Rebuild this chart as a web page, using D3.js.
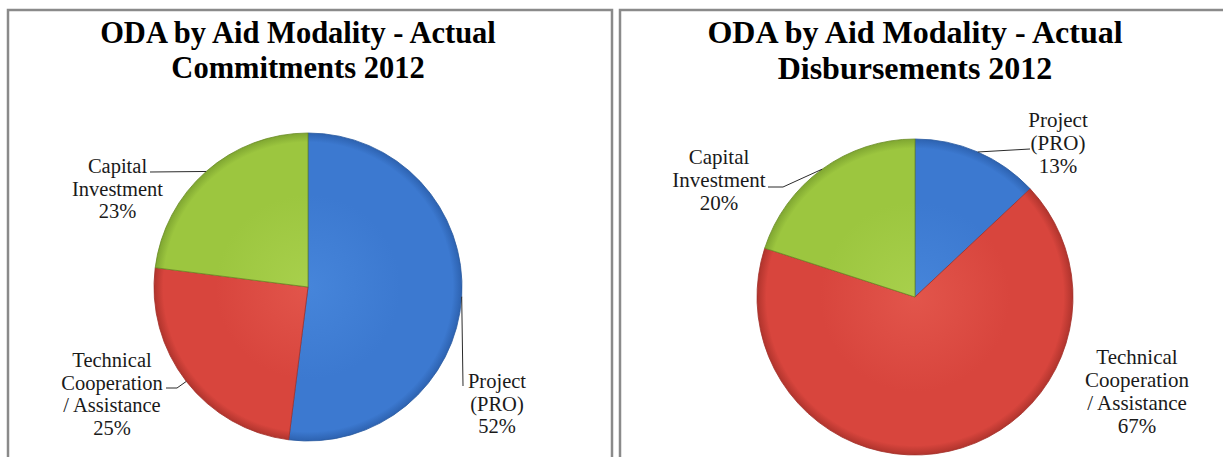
<!DOCTYPE html>
<html>
<head>
<meta charset="utf-8">
<script src="https://cdn.jsdelivr.net/npm/d3@7"></script>
<style>
  html, body { margin: 0; padding: 0; background: #ffffff; }
  svg { display: block; }
</style>
</head>
<body>
<svg id="chart" width="1223" height="457"></svg>
<script>
// ---------- data ----------
const categories = ["Project (PRO)", "Technical Cooperation / Assistance", "Capital Investment"];
const labelLines = [["Project", "(PRO)"], ["Technical", "Cooperation", "/ Assistance"], ["Capital", "Investment"]];
const commitmentValues = [52, 25, 23];
const disbursementValues = [13, 67, 20];
const titleCommitments = ["ODA by Aid Modality - Actual", "Commitments 2012"];
const titleDisbursements = ["ODA by Aid Modality - Actual", "Disbursements 2012"];

// ---------- styles ----------
const FONT = "'Liberation Serif', serif";
const sliceColors = [
  { base: "#3c79d0", light: "#4685da", dark: "#2d62b0" },
  { base: "#d8453d", light: "#e2554b", dark: "#b0342d" },
  { base: "#9cc63f", light: "#a8d04c", dark: "#7fa631" }
];
const edgeColors = ["#2a5aa0", "#a3302a", "#6a8c25"];

// ---------- layout ----------
const panels = [
  {
    values: commitmentValues, title: titleCommitments, id: "c",
    frame: { x: 8, y: 10, w: 604, h: 470 },
    cx: 308, cy: 287, r: 154,
    titleX: 298, titleY: [43, 78], titleSize: 30.5, titleW: [401, 254],
    labelSize: 20.5, lineH: 22.7,
    labels: [
      { x: 497, y: 388, w: [63, 56, 39], leader: [[463, 386]] },
      { x: 112, y: 367, w: [80, 105, 103, 39], leader: [[177, 388], [166, 388]] },
      { x: 117.5, y: 173, w: [59, 91, 40], leader: [[150, 172]] }
    ]
  },
  {
    values: disbursementValues, title: titleDisbursements, id: "d",
    frame: { x: 620, y: 10, w: 640, h: 470 },
    cx: 915, cy: 297, r: 158,
    titleX: 915, titleY: [43, 79], titleSize: 32, titleW: [424, 277],
    labelSize: 21, lineH: 23,
    labels: [
      { x: 1058, y: 127, w: [64, 53, 40], leader: [[1030, 149]] },
      { x: 1137, y: 364, w: [83, 104, 103, 40], leader: null },
      { x: 719, y: 164, w: [61, 94, 39], leader: [[783, 187], [768, 187]] }
    ]
  }
];

const svg = d3.select("#chart");
const defs = svg.append("defs");

panels.forEach(p => {
  sliceColors.forEach((c, i) => {
    const g = defs.append("radialGradient")
      .attr("id", `grad-${p.id}-${i}`)
      .attr("gradientUnits", "userSpaceOnUse")
      .attr("cx", 0).attr("cy", 0).attr("r", p.r);
    g.append("stop").attr("offset", "0%").attr("stop-color", c.light);
    g.append("stop").attr("offset", "60%").attr("stop-color", c.base);
    g.append("stop").attr("offset", "94%").attr("stop-color", c.base);
    g.append("stop").attr("offset", "100%").attr("stop-color", c.dark);
  });
});

const pie = d3.pie().sort(null).value(d => d);

panels.forEach(p => {
  const gp = svg.append("g");

  // frame
  gp.append("rect")
    .attr("x", p.frame.x).attr("y", p.frame.y)
    .attr("width", p.frame.w).attr("height", p.frame.h)
    .attr("fill", "#ffffff")
    .attr("stroke", "#8a8a8a").attr("stroke-width", 2.5);

  // title
  p.title.forEach((t, i) => {
    gp.append("text")
      .attr("x", p.titleX).attr("y", p.titleY[i])
      .attr("text-anchor", "middle")
      .attr("font-family", FONT)
      .attr("font-weight", "bold")
      .attr("font-size", p.titleSize)
      .attr("fill", "#000")
      .text(t);
  });

  // pie
  const arcs = pie(p.values);
  const arc = d3.arc().innerRadius(0).outerRadius(p.r);
  const gPie = gp.append("g").attr("transform", `translate(${p.cx},${p.cy})`);
  gPie.selectAll("path")
    .data(arcs)
    .join("path")
    .attr("d", arc)
    .attr("fill", (d, i) => `url(#grad-${p.id}-${i})`)
    .attr("stroke", (d, i) => edgeColors[i])
    .attr("stroke-width", 0.8)
    .attr("stroke-linejoin", "round");

  // leaders
  arcs.forEach((a, i) => {
    const lab = p.labels[i];
    if (!lab.leader) return;
    const mid = (a.startAngle + a.endAngle) / 2;
    const [ex, ey] = d3.pointRadial(mid, p.r);
    const pts = [[p.cx + ex, p.cy + ey]].concat(lab.leader);
    gp.append("path")
      .attr("d", d3.line()(pts))
      .attr("fill", "none")
      .attr("stroke", "#2b2b2b")
      .attr("stroke-width", 1);
  });

  // labels
  arcs.forEach((a, i) => {
    const lab = p.labels[i];
    const lines = labelLines[i].concat([`${p.values[i]}%`]);
    lines.forEach((ln, k) => {
      gp.append("text")
        .attr("x", lab.x).attr("y", lab.y + k * p.lineH)
        .attr("text-anchor", "middle")
        .attr("font-family", FONT)
        .attr("font-size", p.labelSize)
        .attr("fill", "#1a1a1a")
        .text(ln);
    });
  });
});
</script>
</body>
</html>
